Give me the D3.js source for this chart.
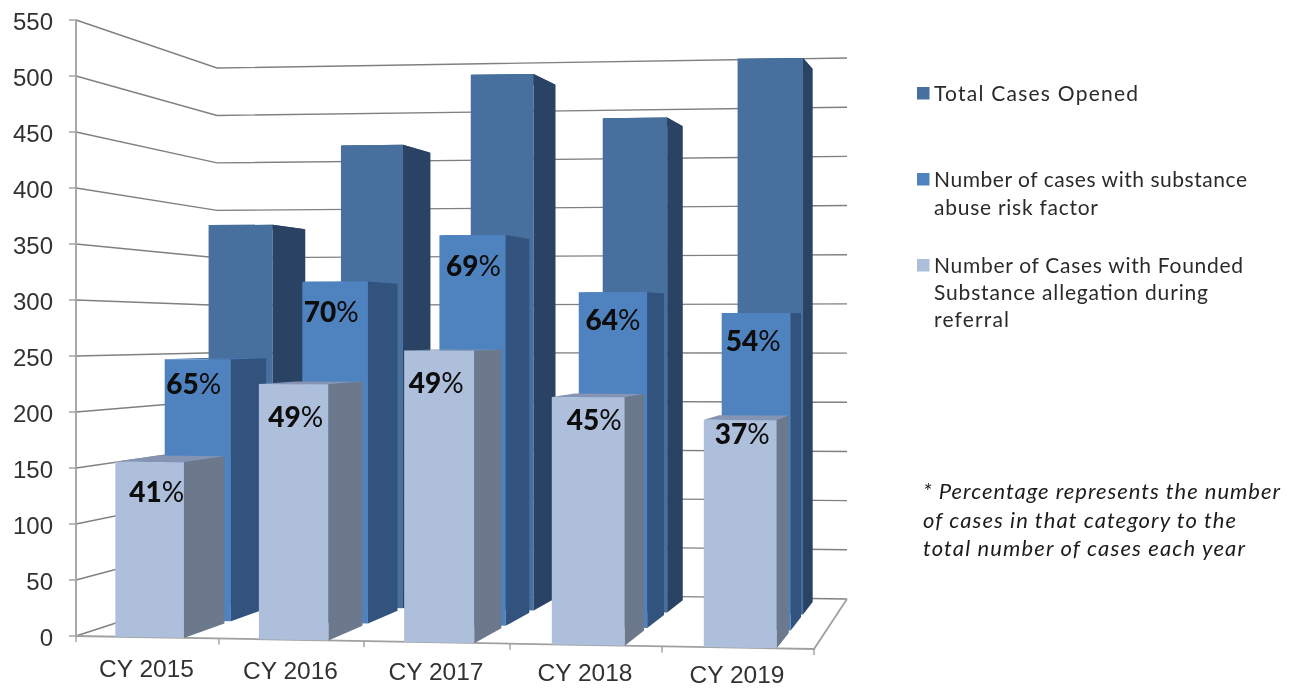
<!DOCTYPE html>
<html>
<head>
<meta charset="utf-8">
<script src="https://d3js.org/d3.v7.min.js"></script>
<style>
html,body{margin:0;padding:0;background:#fff;overflow:hidden}
svg{display:block}
</style>
</head>
<body>
<svg id="chart" width="1290" height="688"></svg>
<script>
// ---- data ----
const categories = ["CY 2015","CY 2016","CY 2017","CY 2018","CY 2019"];
const valueTicks = [0,50,100,150,200,250,300,350,400,450,500,550];
const totalCases = [378,456,524,480,536];
const riskCases = [246,319,362,309,290];
const foundedCases = [156,226,256,216,197];
const riskPct = ["65","70","69","64","54"];
const foundedPct = ["41","49","49","45","37"];
const seriesNames = ["total","risk","founded"];
const seriesValues = [totalCases,riskCases,foundedCases];
const legendLines = [
  ["Total Cases Opened"],
  ["Number of cases with substance","abuse risk factor"],
  ["Number of Cases with Founded","Substance allegation during","referral"]
];
const noteLines = ["* Percentage represents the number","of cases in that category to the","total number of cases each year"];

// ---- layout / scales ----
const xFront = d3.scaleLinear([0,1,2,3,4,5],[76,219,364,510,662,814]);
const xBack = d3.scaleLinear([0,1,2,3,4,5],[217,346,468,592,718,847]);
const floorFront = d3.scaleLinear([0,5],[636,649]);
const floorBack = d3.scaleLinear([0,5],[590,599]);
const unitFront = d3.scaleLinear([0,5],[616/550,638/550]);
const unitBack = d3.scaleLinear([0,5],[522/550,541/550]);
const band = d3.scaleBand(categories,[.015,5.015]).paddingInner(.52).paddingOuter(.26);
const depthStart = d3.scaleOrdinal(seriesNames,[.68,.36,0]);
const depthSize = d3.scaleOrdinal(seriesNames,[.25,.27,.31]);
const faceFront = d3.scaleOrdinal(seriesNames,["#47709f","#5083c0","#aebfdc"]);
const faceSide = d3.scaleOrdinal(seriesNames,["#294263","#30527e","#6c788c"]);
const faceTop = d3.scaleOrdinal(seriesNames,["#38598a","#4a77ad","#8494b2"]);

function project(u,v,t){
  const x = d3.interpolateNumber(xFront(u),xBack(u))(t);
  const fl = d3.interpolateNumber(floorFront(u),floorBack(u))(t);
  const s = d3.interpolateNumber(unitFront(u),unitBack(u))(t);
  return [x, fl - s*v];
}
const line = d3.line();
const svg = d3.select("#chart");
const root = svg.append("g");
const defs = svg.append("defs");
defs.append("filter").attr("id","soft").attr("x","-2%").attr("y","-2%").attr("width","104%").attr("height","104%")
  .append("feGaussianBlur").attr("stdDeviation",0.5);
root.attr("filter","url(#soft)");
root.append("rect").attr("width",1290).attr("height",688).attr("fill","#fff");

const gridColor = "#808080", axisColor = "#a0a0a0";
// gridlines on side wall and back wall
root.append("g").selectAll("path").data(valueTicks).join("path")
  .attr("d",v=>line([project(0,v,0),project(0,v,1),project(5,v,1)]))
  .attr("fill","none").attr("stroke",gridColor).attr("stroke-width",1.4);
// floor outline
root.append("path")
  .attr("d",line([project(5,0,1),project(5,0,0),project(0,0,0)]))
  .attr("fill","none").attr("stroke",axisColor).attr("stroke-width",1.8);
// value axis
root.append("path")
  .attr("d",line([project(0,550,0),project(0,0,0)]))
  .attr("fill","none").attr("stroke",axisColor).attr("stroke-width",1.8);
root.append("g").selectAll("line").data(valueTicks).join("line")
  .attr("x1",v=>project(0,v,0)[0]-7).attr("x2",v=>project(0,v,0)[0])
  .attr("y1",v=>project(0,v,0)[1]).attr("y2",v=>project(0,v,0)[1])
  .attr("stroke",axisColor).attr("stroke-width",1.4);
// category ticks
root.append("g").selectAll("line").data(d3.range(0,6)).join("line")
  .attr("x1",i=>project(i,0,0)[0]).attr("x2",i=>project(i,0,0)[0])
  .attr("y1",i=>project(i,0,0)[1]).attr("y2",i=>project(i,0,0)[1]+6)
  .attr("stroke",axisColor).attr("stroke-width",1.4);

// bars: painted from the back series forward
seriesNames.forEach((name,si)=>{
  const g = root.append("g");
  const t0 = depthStart(name), t1 = t0 + depthSize(name);
  categories.forEach((c,i)=>{
    const v = seriesValues[si][i];
    const u0 = band(c), u1 = u0 + band.bandwidth();
    const poly = pts => g.append("path").attr("d",line(pts)+"Z");
    poly([project(u0,v,t0),project(u1,v,t0),project(u1,v,t1),project(u0,v,t1)])
      .attr("fill",faceTop(name));
    poly([project(u0,0,t0),project(u1,0,t0),project(u1,v,t0),project(u0,v,t0)])
      .attr("fill",faceFront(name));
    poly([project(u1,0,t0),project(u1,0,t1),project(u1,v,t1),project(u1,v,t0)])
      .attr("fill",faceSide(name));
  });
});

// value tick labels
const tickFont = "'Liberation Sans',Arial,sans-serif";
root.append("g").selectAll("text").data(valueTicks).join("text")
  .attr("x",53).attr("y",v=>project(0,v,0)[1]+1)
  .attr("text-anchor","end").attr("dominant-baseline","central")
  .attr("font-family",tickFont).attr("font-size",24).attr("fill","#333")
  .text(d=>d);
// category labels
const catLabelDrop = d3.scaleLinear([0,5],[32,26]);
root.append("g").selectAll("text").data(categories).join("text")
  .attr("x",(c,i)=>project(i+.5,0,0)[0]-1)
  .attr("y",(c,i)=>project(i+.5,0,0)[1]+catLabelDrop(i+.5))
  .attr("text-anchor","middle").attr("dominant-baseline","central")
  .attr("font-family",tickFont).attr("font-size",24.5).attr("fill","#333")
  .text(d=>d);

// percentage labels
const pctFont = "Lato,'Open Sans',sans-serif";
const foundedNudge = [[7,29],[2,32],[-3,31],[6,22],[2,13]];
const riskNudge = [[-4,24],[-4,29],[1,30],[0,27],[-3,27]];
function pctLabels(pcts,values,name,nudge){
  const t0 = depthStart(name);
  root.append("g").selectAll("text").data(pcts).join("text")
    .attr("x",(p,i)=>project(band(categories[i])+band.bandwidth()/2,values[i],t0)[0]+nudge[i][0])
    .attr("y",(p,i)=>project(band(categories[i])+band.bandwidth()/2,values[i],t0)[1]+nudge[i][1])
    .attr("text-anchor","middle").attr("dominant-baseline","central")
    .attr("font-family",pctFont).attr("font-size",28).attr("fill","#0b0b0b")
    .each(function(p){
      const s = d3.select(this);
      s.append("tspan").attr("font-weight",900).text(p);
      s.append("tspan").attr("font-weight",400).text("%");
    });
}
pctLabels(riskPct,riskCases,"risk",riskNudge);
pctLabels(foundedPct,foundedCases,"founded",foundedNudge);

// legend
const legendFont = "Lato,'Open Sans',sans-serif";
const legendSwatchY = [87,173,259];
const legendLineY = [[92],[178,206],[264,291,318]];
const legendWidths = [[204],[313,164],[309,274,75]];
legendLines.forEach((lines,k)=>{
  root.append("rect").attr("x",917).attr("y",legendSwatchY[k]).attr("width",12.5).attr("height",12.5)
    .attr("fill",faceFront(seriesNames[k]));
  lines.forEach((txt,j)=>{
    root.append("text").attr("x",934).attr("y",legendLineY[k][j])
      .attr("dominant-baseline","central")
      .attr("font-family",legendFont).attr("font-size",21).attr("fill","#2a2a2a")
      .attr("textLength",legendWidths[k][j]).attr("lengthAdjust","spacing")
      .text(txt);
  });
});
// footnote
const noteY = [490,519,547];
const noteWidths = [357,313,322];
root.append("g").selectAll("text").data(noteLines).join("text")
  .attr("x",923).attr("y",(d,i)=>noteY[i])
  .attr("dominant-baseline","central")
  .attr("font-family",legendFont).attr("font-style","italic").attr("font-size",22).attr("fill","#1c1c1c")
  .attr("textLength",(d,i)=>noteWidths[i]).attr("lengthAdjust","spacing")
  .text(d=>d);
</script>
</body>
</html>
